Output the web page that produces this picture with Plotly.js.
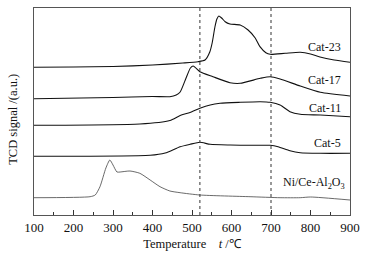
<!DOCTYPE html>
<html><head><meta charset="utf-8">
<script src="https://cdn.plot.ly/plotly-3.0.1.min.js"></script>
<style>html,body{margin:0;padding:0;background:#fff}#c{width:366px;height:256px}</style>
</head><body><div id="c"></div>
<script>
const seriesNames = ["Cat-23","Cat-17","Cat-11","Cat-5","Ni/Ce-Al<sub>2</sub>O<sub>3</sub>"];
const t23 = [100,200,300,400,477,515,533,545,551,558,563,568,575,584,596,622,642,660,672,687,698,736,774,800,824,860,900];
const s23 = [147.7,148,148.5,150,152,153.3,155,163,172,188,196,199,197,193.3,191,190,185,177,168.3,162.3,160.7,161.7,162.7,161,158,155,152.7];
const t17 = [100,300,400,444,460,470,483,496,503,520,553,596,622,673,698,723,774,825,900];
const s17 = [116.3,117.5,118.5,118.3,120,123,135,147,149,143.3,138.3,132.3,131.7,136.7,138.3,136,129,122.7,119];
const t11 = [100,368,444,470,495,520,546,571,622,673,698,723,748,774,825,900];
const s11 = [89.7,91,94.5,99.5,102.5,106.7,110,111.7,112.7,113.3,112.7,110,103.3,100.7,100,98.3];
const t5 = [100,394,432,470,495,520,546,597,647,698,718,748,774,825,900];
const s5 = [58.7,59.7,62,68.3,70.7,72.7,70.7,70,69.7,69.7,68.3,64.3,62.3,61.7,61.7];
const tNi = [100,242,255,267,282,292,300,310,318,343,368,394,419,444,470,520,647,723,774,800,900];
const sNi = [17.3,18.3,20,28.3,47,55,50,43,43,44,41.7,35,28.3,24,22.3,20,18.3,17.3,17.3,18,15];
const refLines = [520,700];
const labelY = [168,135,107,72,32];
const tickVals = [100,200,300,400,500,600,700,800,900];

const xs=[t23,t17,t11,t5,tNi], ys=[s23,s17,s11,s5,sNi];
const traces = xs.map((x,i)=>({x:x,y:ys[i],type:'scatter',mode:'lines',
  line:{color:i===4?'#444':'#111',width:i===4?0.8:1.1,shape:'spline',smoothing:0.6},
  hoverinfo:'none',showlegend:false}));

const FAM='Liberation Serif';
const font={family:FAM,color:'#111'};
const shapes = refLines.map(v=>({type:'line',xref:'x',yref:'paper',x0:v,x1:v,y0:0,y1:1,
  line:{color:'#333',width:1,dash:'dot'}}));
const annotations = seriesNames.map((n,i)=>({x:i===4?892:882,y:labelY[i],xref:'x',yref:'y',
  text:n,showarrow:false,xanchor:'right',yanchor:'middle',font:{family:FAM,color:'#111',size:12}}));
annotations.push({x:0,y:0.46,xref:'paper',yref:'paper',xshift:-21,text:'TCD signal /(a.u.)',
  textangle:-90,showarrow:false,xanchor:'center',yanchor:'middle',font:{family:FAM,color:'#111',size:12.5}});

const layout={width:366,height:256,margin:{l:34,r:16,t:8,b:41},
  paper_bgcolor:'#fff',plot_bgcolor:'#fff',font:{family:FAM,color:'#111',size:12},
  xaxis:{range:[100,900],tickvals:tickVals,ticks:'inside',ticklen:5,tickwidth:1,tickcolor:'#333',
    minor:{dtick:50,tick0:0,ticks:'inside',ticklen:3,tickcolor:'#333'},
    showline:true,linecolor:'#555',linewidth:1,mirror:true,showgrid:false,zeroline:false,
    tickfont:{family:FAM,color:'#111',size:13},
    title:{text:'Temperature&nbsp;&nbsp;&nbsp;&nbsp;<i>t</i> /℃',font:{family:FAM,color:'#111',size:12.5},standoff:5}},
  yaxis:{range:[0,207],showticklabels:false,ticks:'',showline:true,linecolor:'#555',linewidth:1,
    mirror:true,showgrid:false,zeroline:false},
  shapes:shapes,annotations:annotations};
Plotly.newPlot('c',traces,layout,{displayModeBar:false,staticPlot:true});
</script></body></html>
